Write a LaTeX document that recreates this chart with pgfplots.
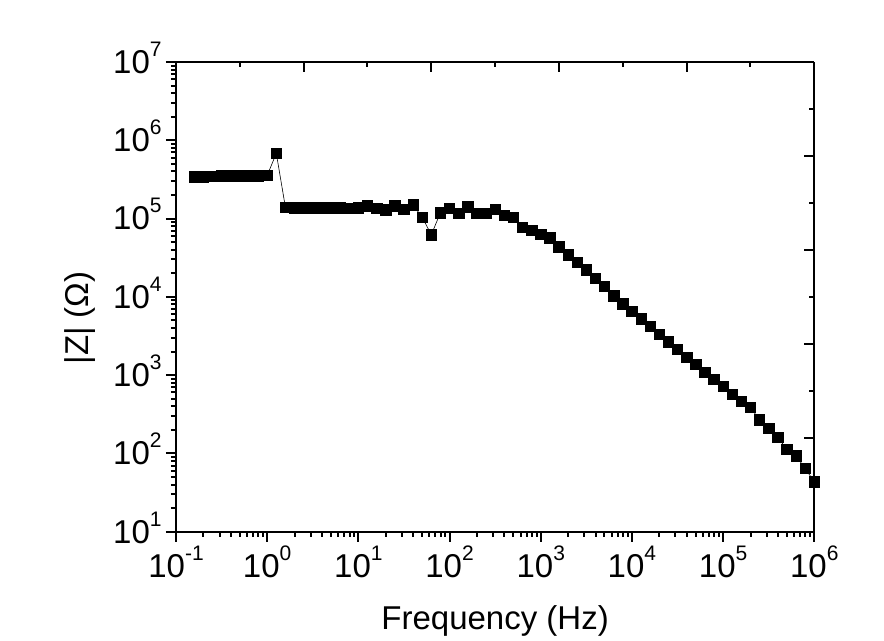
\documentclass[border=0pt]{standalone}
\usepackage{fontspec}
\setmainfont{Liberation Sans}
\usepackage{pgfplots}
\pgfplotsset{compat=1.18}
\newcommand{\p}[1]{10\raisebox{8.5pt}{\fontsize{10.5}{10.5}\selectfont #1}}

\begin{document}
\begin{tikzpicture}
\begin{axis}[
    scale only axis,
    width=319.15pt, height=234.85pt,
    xmode=log, ymode=log,
    xmin=0.1, xmax=1e6,
    ymin=10, ymax=1e7,
    axis x line*=bottom, axis y line*=left,
    axis line style={line width=1pt, -},
    tick align=outside,
    major tick length=5pt, minor tick length=2.5pt,
    every tick/.style={black, line width=1pt},
    xtick={0.1,1,10,100,1000,1e4,1e5,1e6},
    xticklabels={\p{-1},\p{0},\p{1},\p{2},\p{3},\p{4},\p{5},\p{6}},
    ytick={10,100,1000,1e4,1e5,1e6,1e7},
    yticklabels={\p{1},\p{2},\p{3},\p{4},\p{5},\p{6},\p{7}},
    ticklabel style={font=\fontsize{16.5}{18}\selectfont, inner sep=0pt},
    xticklabel style={anchor=base, yshift=-17.8pt},
    yticklabel style={anchor=base east, xshift=-2pt, yshift=-5.7pt},
    label style={font=\fontsize{16.5}{18}\selectfont},
    xlabel={Frequency (Hz)},
    xlabel style={at={(axis description cs:0.5,0)}, anchor=base, yshift=-49pt},
    ylabel={|Z| (Ω)},
    ylabel style={at={(axis description cs:-0.1504,0.455)}, anchor=center},
]
\addplot[black, line width=0.3pt, mark=square*, mark size=2.6pt,
         mark options={solid, fill=black, draw=black}] coordinates {
(0.1585,340000) (0.1995,342000) (0.2512,345000) (0.3162,350000) (0.3981,350000)
(0.5012,352000) (0.6310,350000) (0.7943,350000) (1,355000)
(1.259,682000) (1.585,139000) (1.995,138000) (2.512,138000) (3.162,138000)
(3.981,137000) (5.012,137000) (6.310,137000) (7.943,136000) (10,137000)
(12.59,145000) (15.85,135000) (19.95,129000) (25.12,146000) (31.62,131000)
(39.81,149000) (50.12,104000) (63.10,62000) (79.43,119000) (100,136000)
(125.9,117000) (158.5,142000) (199.5,117000) (251.2,117000) (316.2,132000)
(398.1,111000) (501.2,104000) (631.0,77600) (794.3,70300) (1000,62500)
(1259,57000) (1585,43500) (1995,34400) (2512,27700) (3162,22100)
(3981,17300) (5012,13700) (6310,10300) (7943,8150) (10000,6490)
(12590,5240) (15850,4230) (19950,3340) (25120,2670) (31620,2150)
(39810,1700) (50120,1370) (63100,1094) (79430,890) (100000,716)
(125900,573) (158500,466) (199500,386) (251200,269) (316200,208)
(398100,160) (501200,112) (631000,93) (794300,64) (1000000,43.5)
};
\end{axis}
\begin{axis}[
    scale only axis,
    width=319.15pt, height=234.85pt,
    xmin=0, xmax=10, ymin=0, ymax=10,
    axis x line*=top, axis y line*=right,
    axis line style={line width=1pt, -},
    tick align=inside,
    major tick length=5pt, minor tick length=2.5pt,
    every tick/.style={black, line width=1pt},
    xtick={0,2,...,10}, minor xtick={1,3,...,9},
    ytick={0,2,...,10}, minor ytick={1,3,...,9},
    xticklabels={}, yticklabels={},
]
\end{axis}
\pgfresetboundingbox
\path[use as bounding box] (-88pt,-54.65pt) rectangle (354pt,265.85pt);
\end{tikzpicture}
\end{document}
